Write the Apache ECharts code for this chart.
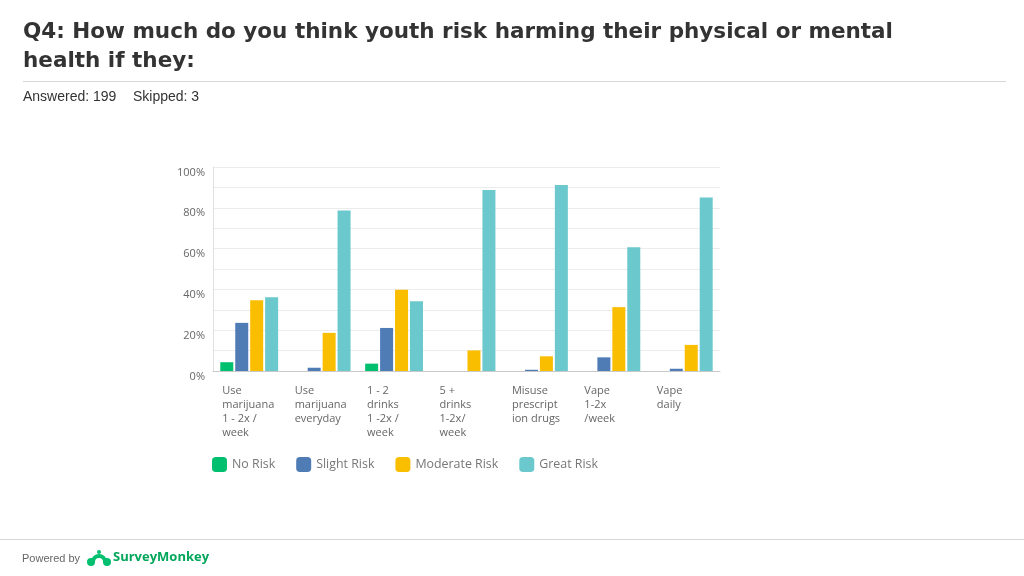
<!DOCTYPE html>
<html>
<head>
<meta charset="utf-8">
<script src="https://cdn.jsdelivr.net/npm/echarts@6/dist/echarts.min.js"></script>
<style>
html,body{margin:0;padding:0;background:#fff;}
#chart{width:1024px;height:576px;}
</style>
</head>
<body>
<div id="chart"></div>
<script>
var categories = [
  "Use\nmarijuana\n1 - 2x /\nweek",
  "Use\nmarijuana\neveryday",
  "1 - 2\ndrinks\n1 -2x /\nweek",
  "5 +\ndrinks\n1-2x/\nweek",
  "Misuse\nprescript\nion drugs",
  "Vape\n1-2x\n/week",
  "Vape\ndaily"
];
var noRisk       = [4.3, 0,    3.6,  0,    0,    0,    0];
var slightRisk   = [23.6, 1.6, 21.1, 0,    0.6,  6.7,  1.1];
var moderateRisk = [34.7, 18.7, 39.8, 10.1, 7.2, 31.3, 12.8];
var greatRisk    = [36.2, 78.7, 34.2, 88.7, 91.2, 60.7, 85.1];
var seriesNames = ["No Risk", "Slight Risk", "Moderate Risk", "Great Risk"];
var yTicks = [0, 20, 40, 60, 80, 100];

var colors = ["#00bf6f", "#507cb6", "#f9be00", "#6bc8cd"];
var chart = echarts.init(document.getElementById('chart'), null, {renderer: 'canvas'});
var dataSets = [noRisk, slightRisk, moderateRisk, greatRisk];

var option = {
  animation: false,
  backgroundColor: '#ffffff',
  title: {
    text: 'Q4: How much do you think youth risk harming their physical or mental\nhealth if they:',
    left: 23, top: 18, padding: 0,
    textStyle: {fontFamily: 'DejaVu Sans', fontWeight: 'bold', fontSize: 21.5, lineHeight: 29, color: '#333333'}
  },
  legend: {
    left: 212, top: 457, padding: 0,
    itemWidth: 15, itemHeight: 15, itemGap: 21,
    icon: 'roundRect',
    textStyle: {fontFamily: 'Open Sans', fontSize: 12.4, color: '#777777'},
    data: seriesNames
  },
  grid: {left: 213, right: 304, top: 167, bottom: 205, containLabel: false},
  xAxis: {
    type: 'category',
    data: categories,
    axisLine: {show: true, lineStyle: {color: '#c8c8c8', width: 1}},
    axisTick: {show: false},
    axisLabel: {
      interval: 0, margin: 13, align: 'center', verticalAlign: 'top',
      formatter: function (v) {
        return v.split('\n').map(function (l) { return '{a|' + l + '}'; }).join('\n');
      },
      rich: {a: {width: 54, align: 'left', fontFamily: 'Open Sans', fontSize: 11, lineHeight: 14, color: '#666666'}}
    }
  },
  yAxis: {
    type: 'value', min: 0, max: 100, interval: 10,
    axisLine: {show: true, lineStyle: {color: '#e0e0e0', width: 1}},
    axisTick: {show: false},
    splitLine: {show: true, lineStyle: {color: '#ececec', width: 1}},
    axisLabel: {
      margin: 8, verticalAlign: 'top', lineHeight: 11,
      fontFamily: 'Open Sans', fontSize: 11, color: '#666666',
      formatter: function (v) { return yTicks.indexOf(v) >= 0 ? v + '%' : ''; }
    }
  },
  series: seriesNames.map(function (n, i) {
    return {
      name: n, type: 'bar', data: dataSets[i],
      barWidth: 13, barGap: '15%',
      itemStyle: {color: colors[i]}
    };
  }),
  graphic: [
    {type: 'line', shape: {x1: 23, y1: 81.5, x2: 1006, y2: 81.5}, style: {stroke: '#d6d6d6', lineWidth: 1}},
    {type: 'text', x: 23, y: 90, style: {text: 'Answered: 199', font: '14px "Liberation Sans", Arial, sans-serif', fill: '#333333'}},
    {type: 'text', x: 133, y: 90, style: {text: 'Skipped: 3', font: '14px "Liberation Sans", Arial, sans-serif', fill: '#333333'}},
    {type: 'line', shape: {x1: 0, y1: 539.5, x2: 1024, y2: 539.5}, style: {stroke: '#d6d6d6', lineWidth: 1}},
    {type: 'text', x: 22, y: 553, style: {text: 'Powered by', font: '11px "Liberation Sans", Arial, sans-serif', fill: '#666666'}},
    {type: 'arc', shape: {cx: 99, cy: 562, r: 6, startAngle: Math.PI, endAngle: 0, clockwise: true}, style: {stroke: '#00bf6f', lineWidth: 4, fill: null}},
    {type: 'circle', shape: {cx: 91, cy: 562, r: 4}, style: {fill: '#00bf6f'}},
    {type: 'circle', shape: {cx: 107, cy: 562, r: 4}, style: {fill: '#00bf6f'}},
    {type: 'circle', shape: {cx: 99, cy: 552, r: 2}, style: {fill: '#00bf6f'}},
    {type: 'text', x: 113, y: 551, style: {text: 'SurveyMonkey', font: 'bold 13px "Open Sans"', fill: '#00a65a'}}
  ]
};
chart.setOption(option);
</script>
</body>
</html>
